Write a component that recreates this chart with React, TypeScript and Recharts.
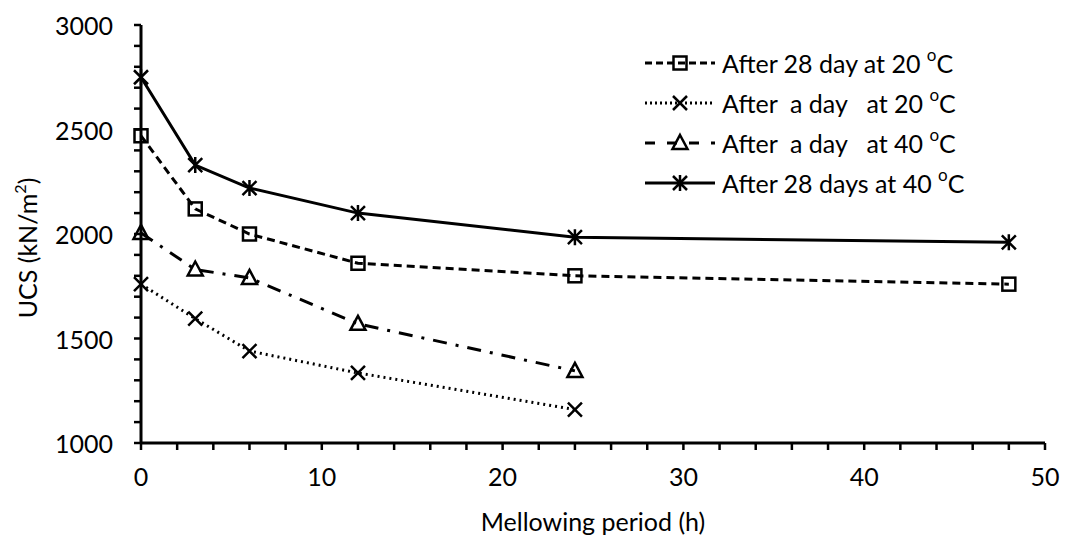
import React from "react";
import { LineChart, Line, XAxis, YAxis } from "recharts";

// mellowing period (h)
const hours = [0, 3, 6, 12, 24, 48];
// UCS (kN/m2) per curing condition
const day28At20 = [2470, 2120, 2000, 1860, 1800, 1760];
const day1At20 = [1760, 1595, 1440, 1335, 1160];
const day1At40 = [2005, 1830, 1790, 1570, 1345];
const day28At40 = [2750, 2330, 2220, 2100, 1985, 1960];

const xTicks = [0, 2, 4, 6, 8, 10, 12, 14, 16, 18, 20, 22, 24, 26, 28, 30, 32, 34, 36, 38, 40, 42, 44, 46, 48, 50];
const yTicks = [1000, 1100, 1200, 1300, 1400, 1500, 1600, 1700, 1800, 1900, 2000, 2100, 2200, 2300, 2400, 2500, 2600, 2700, 2800, 2900, 3000];

const FONT = "Lato, 'Open Sans', sans-serif";
const FS = 25;

const toPoints = (vals: number[]) => vals.map((v, i) => ({ h: hours[i], v }));

type Shape = "square" | "cross" | "triangle" | "star";

function Marker({ cx, cy, shape }: { cx: number; cy: number; shape: Shape }) {
  const s = 7;
  const common = { stroke: "#000", strokeWidth: 2.5, fill: "none" };
  if (shape === "square") return <rect x={cx - 6.5} y={cy - 6.5} width={13} height={13} {...common} />;
  if (shape === "cross")
    return <path d={`M${cx - s},${cy - s}L${cx + s},${cy + s}M${cx - s},${cy + s}L${cx + s},${cy - s}`} {...common} />;
  if (shape === "triangle")
    return <path d={`M${cx},${cy - 8}L${cx + 7.5},${cy + 6}L${cx - 7.5},${cy + 6}Z`} {...common} />;
  return (
    <path
      d={`M${cx - s},${cy - s}L${cx + s},${cy + s}M${cx - s},${cy + s}L${cx + s},${cy - s}M${cx},${cy - 8}L${cx},${cy + 8}`}
      {...common}
    />
  );
}

const dotFor = (shape: Shape) => (p: any) => <Marker key={p.index} cx={p.cx} cy={p.cy} shape={shape} />;

const series = [
  { name: "After 28 day at 20 ", data: day28At20, dash: "8 5", shape: "square" as Shape },
  { name: "After  a day   at 20 ", data: day1At20, dash: "2 4", shape: "cross" as Shape },
  { name: "After  a day   at 40 ", data: day1At40, dash: "14 9 3 9", shape: "triangle" as Shape },
  { name: "After 28 days at 40 ", data: day28At40, dash: undefined, shape: "star" as Shape },
];

const legendDash = ["7 4", "2 3", "10 12", undefined];

function LegendBox() {
  return (
    <svg width={420} height={180} style={{ position: "absolute", left: 640, top: 43, overflow: "visible" }}>
      {series.map((s, i) => {
        const y = 20 + i * 40;
        return (
          <g key={s.name}>
            <line x1={5} x2={75} y1={y} y2={y} stroke="#000" strokeWidth={3} strokeDasharray={legendDash[i]} />
            <Marker cx={40} cy={y} shape={s.shape} />
            <text x={82} y={y} dominantBaseline="central" fontFamily={FONT} fontSize={FS} fill="#000" style={{ whiteSpace: "pre" }}>
              {s.name}
              <tspan dy={-9} fontSize={17}>o</tspan>
              <tspan dy={9}>C</tspan>
            </text>
          </g>
        );
      })}
    </svg>
  );
}

function XTick(props: any) {
  const { x, y, payload } = props;
  const v = payload.value as number;
  return (
    <g>
      <line x1={x} x2={x} y1={y} y2={y + 7} stroke="#000" strokeWidth={2.5} />
      {v % 10 === 0 && (
        <text x={x} y={y + 33} textAnchor="middle" dominantBaseline="central" fontFamily={FONT} fontSize={FS} fill="#000">
          {v}
        </text>
      )}
    </g>
  );
}

function YTick(props: any) {
  const { x, y, payload } = props;
  const v = payload.value as number;
  return (
    <g>
      <line x1={x - 7} x2={x} y1={y} y2={y} stroke="#000" strokeWidth={2.5} />
      {v % 500 === 0 && (
        <text x={x - 28} y={y} textAnchor="end" dominantBaseline="central" fontFamily={FONT} fontSize={FS} fill="#000">
          {v}
        </text>
      )}
    </g>
  );
}

export default function App() {
  return (
    <div style={{ position: "absolute", left: 0, top: 0, width: 1067, height: 537, background: "#fff" }}>
      <LineChart width={1067} height={537} margin={{ top: 25, right: 22, bottom: 0, left: 0 }}>
        <XAxis
          type="number"
          dataKey="h"
          domain={[0, 50]}
          ticks={xTicks}
          interval={0}
          allowDuplicatedCategory={false}
          height={94}
          axisLine={{ stroke: "#000", strokeWidth: 3 }}
          tickLine={false}
          tickSize={0}
          tickMargin={0}
          tick={<XTick />}
          label={{ value: "Mellowing period (h)", position: "insideBottom", offset: 6, fill: "#000", fontSize: FS, fontFamily: FONT }}
        />
        <YAxis
          type="number"
          domain={[1000, 3000]}
          ticks={yTicks}
          interval={0}
          width={141}
          axisLine={{ stroke: "#000", strokeWidth: 3 }}
          tickLine={false}
          tickSize={0}
          tickMargin={0}
          tick={<YTick />}
          label={{
            content: () => (
              <text
                x={27}
                y={248}
                transform="rotate(-90 27 248)"
                textAnchor="middle"
                dominantBaseline="central"
                fontFamily={FONT}
                fontSize={FS}
                fill="#000"
              >
                UCS (kN/m<tspan dy={-8} fontSize={16}>2</tspan>
                <tspan dy={8}>)</tspan>
              </text>
            ),
          }}
        />
        {series.map((s) => (
          <Line
            key={s.name}
            data={toPoints(s.data)}
            dataKey="v"
            name={s.name}
            stroke="#000"
            strokeWidth={3}
            strokeDasharray={s.dash}
            dot={dotFor(s.shape)}
            activeDot={false}
            isAnimationActive={false}
          />
        ))}
      </LineChart>
      <LegendBox />
    </div>
  );
}
